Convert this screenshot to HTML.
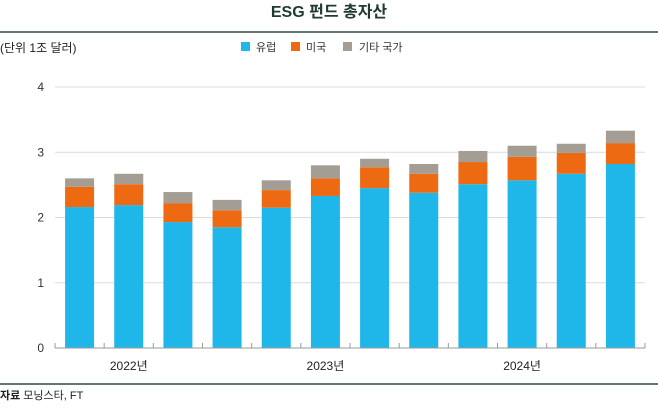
<!DOCTYPE html>
<html><head><meta charset="utf-8"><style>
body{margin:0;background:#fff;font-family:"Liberation Sans","Noto Sans CJK KR",sans-serif}
</style></head><body>
<svg width="658" height="404" viewBox="0 0 658 404" xmlns="http://www.w3.org/2000/svg" style="font-family:'Liberation Sans','Noto Sans CJK KR',sans-serif">
<text x="329" y="17" text-anchor="middle" font-size="16" font-weight="bold" fill="#1f3a2e">ESG 펀드 총자산</text>
<line x1="0" y1="32" x2="658" y2="32" stroke="#2f4a40" stroke-width="1.5"/>
<text x="0" y="52" font-size="12" fill="#222">(단위 1조 달러)</text>
<g font-size="11" fill="#333">
<rect x="241" y="42" width="9" height="9" fill="#1fb6ea"/><text x="256" y="51">유럽</text>
<rect x="291" y="42" width="9" height="9" fill="#ee6a12"/><text x="306" y="51">미국</text>
<rect x="343" y="42" width="9" height="9" fill="#a39d94"/><text x="359" y="51">기타 국가</text>
</g>
<g id="plot"></g>
<line x1="0" y1="384" x2="658" y2="384" stroke="#2f4a40" stroke-width="1.5"/>
<text x="0" y="399" font-size="11" fill="#222"><tspan font-weight="bold">자료</tspan> 모닝스타,  FT</text>
</svg>
<script>
const europe=[2.16,2.19,1.93,1.85,2.15,2.33,2.45,2.38,2.51,2.57,2.67,2.82];
const us=[0.31,0.32,0.29,0.26,0.27,0.27,0.32,0.29,0.34,0.36,0.32,0.32];
const other=[0.13,0.16,0.17,0.16,0.15,0.20,0.13,0.15,0.17,0.17,0.14,0.19];
const yTicks=[0,1,2,3,4];
const yearLabels=["2022년","2023년","2024년"];
const yearIdx=[1,5,9];
const NS="http://www.w3.org/2000/svg";
const g=document.getElementById('plot');
const x0=55,x1=645,y0=348,yTop=87,yMax=4;
const step=(x1-x0)/europe.length, bw=29;
const y=v=>y0-(v/yMax)*(y0-yTop);
const xc=i=>x0+step*(i+0.5);
function mk(t,a){const e=document.createElementNS(NS,t);for(const k in a)e.setAttribute(k,a[k]);g.appendChild(e);return e;}
yTicks.forEach(t=>{
 if(t>0){const l=mk('line',{x1:x0,x2:x1,y1:y(t),y2:y(t),stroke:'#dcdcdc','stroke-width':1});
 
 }
 const tx=mk('text',{x:44,y:y(t)+4,'text-anchor':'end','font-size':12,fill:'#333'});tx.textContent=t;
 
 
});
europe.forEach((v,i)=>{
 const segs=[[0,v,'#1fb6ea'],[v,v+us[i],'#ee6a12'],[v+us[i],v+us[i]+other[i],'#a39d94']];
 const names=['bar-europe','bar-us','bar-other'];
 segs.forEach((s,j)=>{const r=mk('rect',{x:xc(i)-bw/2,y:y(s[1]),width:bw,height:y(s[0])-y(s[1]),fill:s[2]});
 
 });
});
const ax=mk('line',{x1:x0,x2:x1,y1:y0,y2:y0,stroke:'#999','stroke-width':1});


for(let i=0;i<=europe.length;i++){const t=mk('line',{x1:x0+step*i,x2:x0+step*i,y1:y0,y2:y0-5,stroke:'#999'});
 
 }
yearLabels.forEach((s,k)=>{const t=mk('text',{x:xc(yearIdx[k]),y:370,'text-anchor':'middle','font-size':12,fill:'#222'});t.textContent=s;
 
 });
</script>
</body></html>
